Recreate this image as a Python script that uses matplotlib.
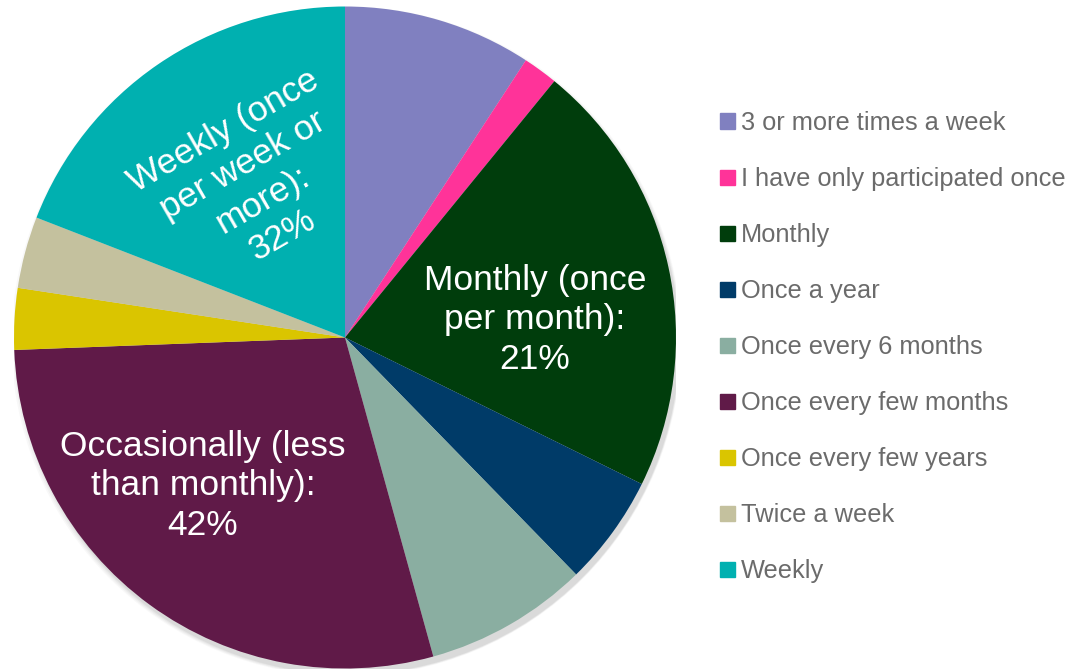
import matplotlib.pyplot as plt
from matplotlib.patches import Circle, Rectangle

# Participation frequency shares (percent of respondents)
categories = ["3 or more times a week", "I have only participated once", "Monthly",
              "Once a year", "Once every 6 months", "Once every few months",
              "Once every few years", "Twice a week", "Weekly"]
shares = [9.2, 1.7, 21.4, 5.4, 8.0, 28.7, 3.0, 3.5, 19.1]
colors = ["#8080c0", "#ff3399", "#003d0c", "#003b68", "#8aaea1",
          "#601a48", "#dac500", "#c4c19e", "#00b0b0"]

# Grouped callouts written on the pie
group_labels = ["Weekly (once\nper week or\nmore):\n32%",
                "Monthly (once\nper month):\n21%",
                "Occasionally (less\nthan monthly):\n42%"]

plt.rcParams['font.family'] = ['Liberation Sans', 'DejaVu Sans']

fig = plt.figure(figsize=(10.74, 6.71), dpi=100)
W, H = 1074, 671

# pie axes: centre (345, 337.5) px, radius 331 px
cx, cy, r = 345, 337.5, 331
ax = fig.add_axes([(cx - r) / W, (H - cy - r) / H, 2 * r / W, 2 * r / H])
ax.set_xlim(-1, 1)
ax.set_ylim(-1, 1)
ax.axis('off')

# soft drop shadow under the pie
for i, a in enumerate([0.05, 0.07, 0.09, 0.12]):
    ax.add_patch(Circle((0.004 + 0.002 * i, -0.012 - 0.002 * i), 1.0 + 0.004 * (3 - i),
                        color='#888888', alpha=a, lw=0, zorder=0))

ax.pie(shares, colors=colors, startangle=90, counterclock=False, radius=1.0,
       wedgeprops=dict(linewidth=0, antialiased=True), frame=False)
ax.set_xlim(-1, 1)
ax.set_ylim(-1, 1)


def px(x, y):
    return ((x - cx) / r, (cy - y) / r)


txt = dict(color='white', fontsize=25.5, ha='center', va='center', linespacing=1.26)
ax.text(*px(253, 183), group_labels[0], rotation=30, rotation_mode='anchor', **txt)
ax.text(*px(535, 320), group_labels[1], **txt)
ax.text(*px(203, 486), group_labels[2], **txt)

# legend: coloured square followed by the category name
y0, step = 121, 56.1
for i, (name, col) in enumerate(zip(categories, colors)):
    y = y0 + i * step
    fig.patches.append(Rectangle((720 / W, (H - y - 7.5) / H), 15 / W, 15 / H,
                                 color=col, transform=fig.transFigure, figure=fig))
    fig.text(741 / W, (H - y - 1.5) / H, name, color='#6b6b6b', fontsize=18.3,
             ha='left', va='center')

fig.savefig('out.png', dpi=100, facecolor='white')
